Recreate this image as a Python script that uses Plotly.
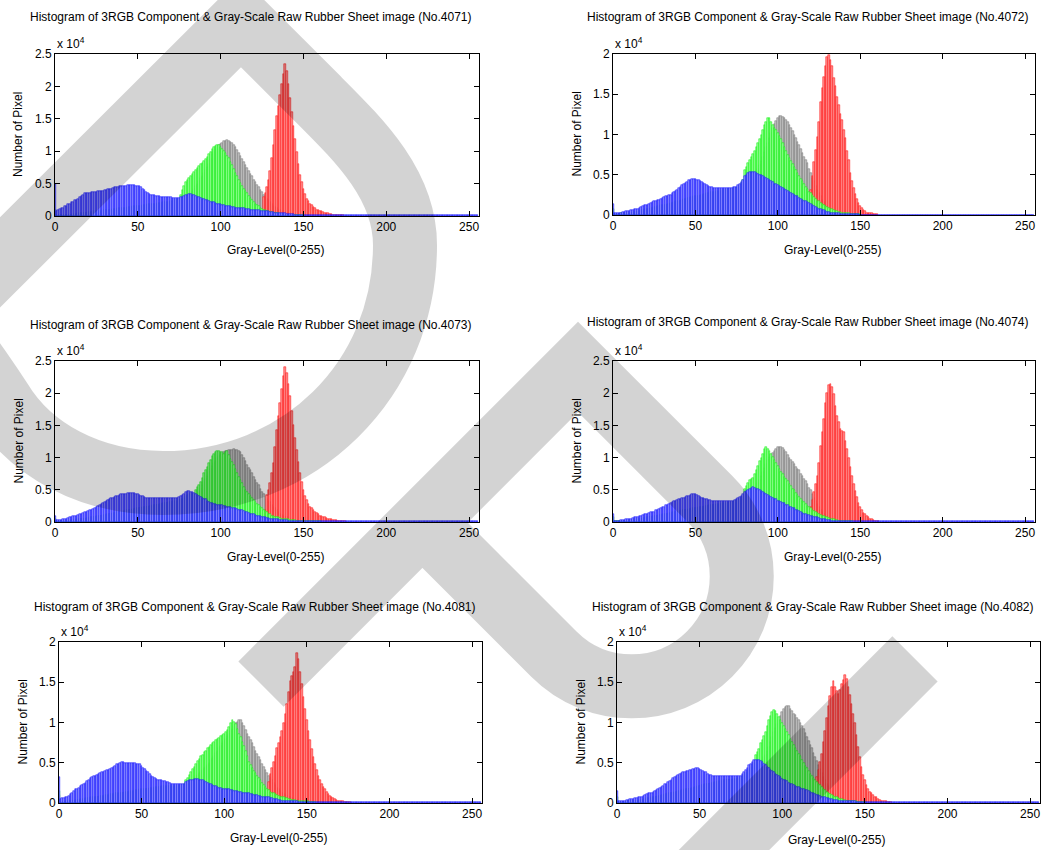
import plotly.graph_objects as go

# Histograms of the R, G, B channels and the gray-scale version of six raw
# rubber sheet images. Counts are stored in hundreds of pixels per gray level.
COUNT_UNIT = 100

IMAGE_IDS = ["4071", "4072", "4073", "4074", "4081", "4082"]
Y_MAX = [25000, 20000, 25000, 25000, 20000, 20000]
X_TICKS = [0, 50, 100, 150, 200, 250]
Y_TICK_TEXT = ["0", "0.5", "1", "1.5", "2", "2.5"]
BLUE_TAIL = [1, 0, 1, 1, 1, 1]

# ---------------- No.4071 ----------------
BLUE_4071 = [
    50, 8, 10, 11, 12, 13, 15, 16, 18, 19,
    21, 22, 24, 25, 27, 29, 31, 33, 35, 36,
    36, 36, 37, 37, 37, 37, 38, 38, 39, 39,
    40, 40, 41, 41, 42, 43, 44, 45, 45, 46,
    46, 47, 47, 47, 48, 48, 48, 48, 48, 47,
    47, 46, 44, 42, 40, 37, 35, 34, 33, 32,
    32, 31, 31, 31, 30, 30, 30, 30, 29, 29,
    29, 28, 28, 28, 28, 28, 29, 30, 31, 32,
    33, 34, 34, 33, 32, 31, 30, 29, 28, 27,
    26, 25, 24, 23, 22, 22, 21, 20, 19, 19,
    18, 17, 17, 16, 16, 15, 15, 14, 14, 13,
    13, 13, 12, 12, 12, 11, 11, 11, 10, 10,
    10, 9, 9, 9, 8, 8, 8, 7, 7, 7,
    6, 6, 6, 5, 5, 5, 4, 4, 4, 4,
    3, 3, 3, 3, 3, 2, 2, 2, 2, 2,
    2, 2, 2, 2, 1, 1, 1, 1, 1, 1]
GREEN_4071 = [
    10, 1, 1, 1, 1, 1, 1, 2, 2, 2,
    2, 3, 3, 3, 4, 4, 4, 5, 5, 5,
    6, 6, 6, 7, 7, 7, 8, 8, 8, 9,
    9, 9, 10, 10, 10, 11, 11, 11, 12, 12,
    12, 13, 13, 13, 14, 14, 14, 15, 15, 15,
    16, 16, 16, 17, 17, 17, 18, 18, 18, 19,
    19, 19, 20, 20, 20, 21, 21, 21, 22, 22,
    23, 23, 24, 25, 25, 26, 33, 40, 47, 52,
    55, 59, 62, 65, 68, 71, 74, 77, 80, 82,
    85, 88, 91, 95, 99, 103, 106, 108, 110, 109,
    107, 104, 101, 97, 93, 89, 84, 78, 72, 67,
    61, 56, 51, 46, 42, 39, 35, 31, 28, 24,
    21, 19, 17, 15, 13, 11, 10, 9, 8, 7,
    6, 6, 5, 5, 4, 4, 3, 3, 3, 2,
    2, 2, 2, 2, 2, 2, 1, 1, 1, 1,
    1]
GRAY_4071 = [
    10, 1, 1, 1, 1, 1, 1, 1, 2, 2,
    2, 2, 2, 3, 3, 3, 3, 4, 4, 4,
    4, 5, 5, 5, 5, 6, 6, 6, 6, 7,
    7, 7, 7, 8, 8, 8, 8, 9, 9, 9,
    9, 10, 10, 10, 10, 11, 11, 11, 11, 12,
    12, 12, 12, 13, 13, 13, 13, 14, 14, 14,
    14, 15, 15, 16, 16, 17, 17, 18, 18, 19,
    19, 20, 21, 22, 23, 24, 25, 26, 27, 28,
    30, 33, 36, 39, 42, 46, 50, 54, 58, 62,
    66, 71, 76, 81, 88, 95, 99, 103, 106, 109,
    111, 113, 115, 116, 117, 116, 114, 112, 109, 106,
    102, 98, 93, 88, 83, 79, 74, 70, 65, 61,
    56, 52, 48, 44, 40, 37, 33, 30, 27, 24,
    21, 18, 16, 14, 12, 10, 9, 8, 7, 6,
    5, 4, 4, 3, 3, 3, 2, 2, 2, 2,
    1, 1, 1, 1, 1, 1, 1, 1, 1, 1, 1]
RED_4071_FROM = 126
RED_4071 = [
    29, 36, 44, 56, 69, 89, 109, 132, 154, 170,
    186, 203, 219, 235, 224, 203, 182, 160, 139, 119,
    99, 81, 64, 52, 42, 34, 27, 23, 19, 17,
    14, 12, 10, 9, 8, 7, 6, 5, 5, 4,
    3, 3, 2, 2, 2, 1, 1, 1, 1]

# ---------------- No.4072 ----------------
BLUE_4072 = [
    14, 2, 2, 2, 3, 3, 4, 4, 5, 5,
    5, 6, 6, 7, 7, 8, 9, 10, 11, 12,
    12, 13, 14, 15, 16, 17, 18, 19, 19, 20,
    21, 22, 23, 24, 25, 25, 27, 28, 30, 31,
    33, 35, 37, 38, 40, 41, 43, 44, 45, 45,
    45, 44, 43, 42, 41, 40, 38, 37, 36, 35,
    35, 34, 34, 34, 34, 34, 34, 34, 34, 34,
    34, 34, 34, 35, 35, 35, 37, 39, 41, 44,
    48, 50, 52, 53, 54, 53, 53, 52, 51, 50,
    50, 48, 47, 46, 45, 44, 42, 41, 39, 38,
    37, 36, 35, 33, 32, 31, 30, 28, 27, 26,
    25, 24, 23, 21, 20, 19, 18, 17, 16, 15,
    14, 12, 11, 10, 9, 8, 7, 6, 6, 5,
    4, 4, 3, 3, 3, 2, 2, 2, 1, 1,
    1, 1, 1, 1, 1, 1, 1, 1, 1, 1]
GREEN_4072 = [
    8, 1, 1, 1, 1, 2, 2, 2, 2, 3,
    3, 3, 4, 4, 4, 5, 5, 6, 6, 7,
    7, 8, 8, 9, 9, 10, 10, 11, 11, 12,
    12, 13, 13, 14, 14, 15, 15, 16, 17, 17,
    18, 18, 19, 20, 20, 21, 21, 22, 22, 23,
    23, 24, 24, 25, 25, 26, 26, 27, 27, 28,
    28, 29, 29, 30, 30, 30, 31, 31, 31, 32,
    32, 32, 32, 33, 33, 34, 35, 37, 40, 43,
    56, 60, 64, 68, 72, 76, 80, 85, 89, 94,
    100, 106, 112, 116, 121, 120, 116, 112, 108, 105,
    102, 98, 94, 89, 84, 79, 75, 71, 67, 63,
    60, 56, 52, 48, 45, 42, 38, 35, 32, 29,
    27, 25, 22, 20, 18, 17, 15, 14, 12, 11,
    10, 9, 8, 7, 6, 5, 5, 4, 4, 3,
    3, 3, 2, 2, 1, 1, 1, 1, 1, 1, 1]
GRAY_4072 = [
    8, 1, 1, 1, 1, 1, 2, 2, 2, 2,
    2, 3, 3, 3, 4, 4, 4, 5, 5, 6,
    6, 6, 7, 7, 8, 8, 9, 9, 10, 10,
    11, 11, 12, 12, 13, 13, 14, 15, 15, 16,
    16, 17, 17, 18, 18, 19, 19, 20, 20, 21,
    21, 22, 22, 23, 23, 24, 24, 25, 25, 26,
    26, 27, 27, 28, 28, 29, 29, 30, 30, 31,
    31, 31, 32, 32, 33, 33, 34, 34, 35, 36,
    37, 38, 40, 41, 43, 45, 49, 53, 57, 62,
    67, 72, 78, 84, 90, 96, 102, 108, 113, 117,
    120, 123, 123, 122, 120, 118, 115, 112, 108, 104,
    100, 96, 91, 87, 82, 77, 72, 68, 64, 57,
    52, 46, 42, 36, 31, 27, 23, 19, 16, 13,
    11, 9, 7, 6, 5, 4, 3, 3, 2, 2,
    2, 1, 1, 1, 1, 1, 1, 1, 1, 1, 1]
RED_4072_FROM = 119
RED_4072 = [
    23, 31, 48, 66, 81, 97, 115, 140, 158, 172,
    185, 196, 199, 193, 185, 170, 160, 147, 137, 126,
    118, 106, 96, 80, 68, 52, 42, 33, 26, 20,
    15, 11, 9, 6, 5, 3, 3, 2, 2, 1,
    1, 1]

# ---------------- No.4073 ----------------
BLUE_4073 = [
    10, 3, 3, 3, 3, 4, 4, 5, 6, 7,
    8, 9, 9, 10, 11, 12, 13, 14, 15, 16,
    17, 18, 19, 20, 22, 23, 25, 26, 28, 29,
    31, 33, 34, 36, 37, 38, 39, 40, 41, 42,
    43, 43, 44, 44, 45, 45, 45, 45, 45, 44,
    43, 42, 41, 40, 39, 38, 37, 37, 37, 37,
    37, 37, 37, 37, 37, 37, 37, 37, 37, 37,
    37, 37, 37, 38, 38, 39, 40, 42, 44, 46,
    48, 48, 47, 46, 45, 44, 42, 40, 39, 37,
    36, 35, 33, 31, 30, 29, 28, 28, 27, 27,
    26, 26, 25, 25, 24, 24, 23, 22, 22, 21,
    20, 19, 19, 18, 17, 16, 15, 14, 13, 13,
    12, 11, 10, 9, 9, 8, 7, 7, 6, 6,
    5, 5, 4, 4, 4, 4, 3, 3, 3, 3,
    3, 2, 2, 2, 2, 2, 2, 2, 2, 2,
    1, 1, 1, 1, 1, 1, 1, 1, 1, 1]
GREEN_4073 = [
    5, 1, 1, 1, 1, 2, 2, 2, 2, 3,
    3, 3, 3, 4, 4, 4, 5, 5, 5, 6,
    6, 7, 7, 8, 8, 9, 9, 10, 10, 11,
    11, 12, 12, 13, 13, 14, 14, 15, 15, 16,
    16, 17, 17, 18, 18, 19, 19, 20, 20, 21,
    21, 22, 22, 23, 23, 24, 24, 25, 25, 26,
    26, 27, 27, 28, 28, 29, 29, 30, 30, 31,
    31, 32, 32, 33, 33, 34, 35, 36, 38, 40,
    42, 43, 44, 44, 44, 50, 54, 58, 62, 69,
    76, 81, 86, 91, 96, 102, 105, 108, 110, 110,
    109, 108, 106, 108, 110, 104, 98, 93, 88, 82,
    76, 70, 65, 60, 55, 50, 46, 43, 40, 37,
    34, 31, 28, 26, 23, 21, 19, 17, 15, 13,
    12, 10, 9, 8, 7, 7, 6, 5, 5, 4,
    4, 4, 3, 3, 3, 3, 2, 2, 2, 2,
    2, 1, 1, 1, 1, 1, 1, 1, 1, 1, 1]
GRAY_4073 = [
    5, 1, 1, 1, 1, 1, 1, 2, 2, 2,
    2, 2, 3, 3, 3, 4, 4, 4, 5, 5,
    5, 6, 6, 7, 7, 8, 8, 9, 9, 10,
    10, 11, 11, 12, 12, 13, 13, 14, 14, 15,
    15, 16, 16, 17, 17, 18, 18, 19, 19, 20,
    20, 21, 21, 22, 22, 23, 23, 24, 24, 25,
    25, 26, 26, 27, 27, 28, 28, 29, 29, 30,
    30, 30, 31, 31, 31, 32, 32, 33, 33, 34,
    34, 35, 36, 37, 38, 40, 43, 47, 52, 57,
    62, 67, 72, 77, 82, 87, 91, 95, 99, 102,
    105, 107, 109, 110, 111, 112, 112, 112, 113, 112,
    112, 110, 108, 104, 99, 94, 89, 84, 81, 76,
    70, 66, 61, 57, 51, 47, 43, 39, 36, 33,
    31, 27, 24, 21, 18, 15, 13, 11, 9, 8,
    7, 6, 5, 4, 4, 3, 3, 2, 2, 2,
    2, 1, 1, 1, 1, 1, 1, 1, 1, 1, 1]
RED_4073_FROM = 127
RED_4073 = [
    18, 42, 50, 60, 76, 91, 117, 143, 165, 185,
    206, 227, 240, 232, 214, 195, 173, 151, 131, 112,
    93, 76, 62, 50, 41, 34, 28, 24, 21, 18,
    16, 14, 12, 10, 9, 8, 7, 6, 5, 4,
    4, 3, 3, 3, 2, 2, 1, 1, 1]

# ---------------- No.4074 ----------------
BLUE_4074 = [
    13, 2, 2, 2, 2, 3, 3, 3, 4, 4,
    5, 5, 6, 7, 7, 8, 9, 10, 11, 12,
    13, 13, 14, 15, 15, 16, 18, 19, 20, 22,
    23, 24, 26, 27, 28, 30, 31, 32, 33, 34,
    35, 36, 37, 38, 39, 40, 41, 42, 43, 44,
    43, 42, 41, 39, 38, 37, 36, 35, 34, 34,
    33, 33, 33, 32, 32, 32, 32, 32, 32, 32,
    32, 32, 32, 33, 34, 35, 37, 39, 41, 44,
    46, 48, 50, 52, 53, 54, 53, 52, 51, 49,
    48, 46, 45, 43, 42, 41, 39, 38, 36, 35,
    33, 32, 31, 30, 29, 27, 26, 24, 23, 22,
    21, 19, 18, 17, 15, 14, 13, 12, 11, 11,
    10, 9, 8, 7, 7, 6, 5, 5, 4, 4,
    3, 3, 3, 2, 2, 2, 2, 1, 1, 1,
    1, 1, 1, 1, 1, 1, 1, 1, 1, 1,
    1, 1, 1, 1, 1, 1, 1, 1, 1, 1]
GREEN_4074 = [
    7, 1, 1, 1, 1, 1, 2, 2, 2, 2,
    3, 3, 3, 4, 4, 4, 5, 5, 6, 6,
    7, 7, 8, 8, 9, 9, 10, 10, 11, 11,
    12, 12, 13, 13, 14, 14, 15, 15, 16, 16,
    17, 17, 18, 18, 19, 19, 20, 20, 21, 21,
    22, 22, 23, 23, 24, 24, 25, 25, 26, 26,
    27, 27, 27, 28, 28, 28, 29, 29, 29, 30,
    30, 30, 31, 31, 32, 33, 34, 36, 38, 40,
    51, 56, 61, 65, 67, 69, 75, 81, 87, 94,
    100, 106, 113, 117, 114, 110, 106, 101, 97, 92,
    87, 82, 78, 74, 70, 67, 63, 59, 56, 52,
    49, 45, 42, 39, 36, 33, 31, 28, 25, 23,
    21, 19, 17, 15, 14, 13, 11, 10, 9, 8,
    7, 6, 5, 4, 4, 3, 3, 2, 2, 2,
    2, 1, 1, 1, 1, 1]
GRAY_4074 = [
    7, 1, 1, 1, 1, 1, 1, 2, 2, 2,
    2, 2, 3, 3, 3, 4, 4, 4, 5, 5,
    6, 6, 7, 7, 8, 8, 9, 9, 10, 10,
    11, 11, 12, 12, 13, 13, 14, 14, 15, 15,
    16, 16, 17, 17, 18, 18, 19, 19, 20, 20,
    21, 21, 22, 22, 23, 23, 24, 24, 25, 25,
    26, 26, 26, 27, 27, 27, 28, 28, 28, 29,
    29, 29, 30, 30, 31, 31, 32, 33, 34, 35,
    36, 37, 38, 40, 42, 45, 50, 55, 60, 66,
    72, 78, 84, 90, 96, 101, 104, 107, 110, 113,
    116, 117, 117, 115, 112, 108, 104, 100, 97, 93,
    90, 86, 83, 80, 75, 72, 67, 63, 59, 53,
    49, 44, 38, 33, 28, 23, 19, 16, 13, 11,
    9, 7, 6, 5, 4, 3, 3, 2, 2, 2,
    1, 1, 1, 1, 1, 1, 1, 1, 1, 1, 1]
RED_4074_FROM = 119
RED_4074 = [
    15, 23, 34, 46, 59, 72, 92, 118, 140, 160,
    185, 200, 213, 215, 210, 198, 180, 165, 155, 144,
    141, 139, 126, 113, 99, 85, 72, 59, 48, 39,
    30, 23, 18, 14, 12, 9, 7, 5, 4, 3,
    2, 1, 1]

# ---------------- No.4081 ----------------
BLUE_4081 = [
    32, 5, 6, 6, 7, 8, 9, 11, 13, 15,
    17, 18, 19, 21, 22, 24, 25, 27, 29, 31,
    32, 33, 34, 35, 36, 37, 38, 39, 40, 41,
    41, 42, 43, 45, 46, 48, 49, 50, 51, 51,
    50, 50, 50, 50, 50, 50, 50, 49, 49, 48,
    46, 44, 42, 40, 38, 36, 34, 32, 31, 30,
    29, 28, 28, 27, 27, 26, 26, 25, 24, 24,
    23, 23, 23, 23, 23, 23, 24, 26, 27, 28,
    28, 29, 30, 30, 30, 29, 29, 28, 27, 26,
    25, 24, 23, 22, 21, 21, 20, 19, 19, 18,
    18, 17, 17, 17, 16, 16, 15, 15, 15, 14,
    14, 13, 13, 13, 12, 12, 11, 11, 10, 10,
    10, 9, 9, 8, 8, 8, 7, 7, 6, 6,
    5, 5, 5, 4, 4, 3, 3, 3, 3, 3,
    2, 2, 2, 2, 2, 1, 1, 1, 1, 1,
    1, 1, 1, 1, 1, 1, 1, 1, 1, 1]
GREEN_4081 = [
    15, 1, 1, 1, 2, 2, 2, 3, 3, 3,
    4, 4, 4, 5, 5, 5, 6, 6, 6, 7,
    7, 7, 8, 8, 8, 9, 9, 9, 10, 10,
    10, 11, 11, 11, 12, 12, 12, 13, 13, 13,
    14, 14, 14, 15, 15, 15, 16, 16, 16, 17,
    17, 17, 18, 18, 18, 19, 19, 19, 20, 20,
    20, 20, 21, 21, 21, 21, 21, 21, 21, 21,
    21, 21, 21, 21, 22, 22, 24, 28, 31, 35,
    38, 42, 45, 48, 52, 55, 58, 60, 63, 65,
    68, 70, 72, 74, 76, 78, 80, 81, 83, 84,
    86, 88, 91, 94, 99, 103, 101, 98, 92, 86,
    82, 76, 71, 65, 58, 51, 47, 44, 40, 37,
    34, 31, 28, 25, 22, 20, 18, 16, 14, 13,
    12, 11, 10, 9, 8, 7, 7, 6, 6, 5,
    5, 4, 4, 4, 3, 3, 3, 2, 2, 2,
    2, 2, 1, 1, 1, 1]
GRAY_4081 = [
    10, 1, 1, 1, 1, 1, 2, 2, 2, 2,
    3, 3, 3, 3, 4, 4, 4, 5, 5, 5,
    6, 6, 6, 7, 7, 7, 8, 8, 8, 9,
    9, 9, 10, 10, 10, 11, 11, 11, 12, 12,
    12, 13, 13, 13, 14, 14, 14, 15, 15, 15,
    16, 16, 16, 17, 17, 17, 18, 18, 18, 19,
    19, 19, 20, 20, 20, 20, 20, 20, 20, 20,
    20, 20, 21, 21, 21, 21, 22, 23, 24, 25,
    27, 29, 31, 33, 35, 37, 39, 41, 43, 45,
    47, 50, 53, 56, 59, 62, 65, 68, 71, 74,
    77, 80, 83, 86, 89, 92, 96, 99, 101, 103,
    103, 100, 96, 91, 86, 82, 78, 74, 70, 65,
    61, 57, 53, 49, 45, 41, 37, 34, 31, 28,
    25, 22, 19, 17, 15, 13, 11, 10, 9, 8,
    7, 6, 5, 5, 4, 4, 3, 3, 2, 2,
    2, 1, 1, 1, 1, 1, 1, 1, 1, 1, 1]
RED_4081_FROM = 127
RED_4081 = [
    26, 36, 44, 51, 59, 68, 75, 82, 90, 99,
    111, 123, 138, 152, 158, 163, 169, 186, 179, 163,
    148, 132, 117, 103, 90, 78, 67, 57, 48, 41,
    34, 28, 24, 20, 17, 14, 11, 9, 8, 6,
    5, 4, 3, 3, 2, 2, 1, 1, 1, 1]

# ---------------- No.4082 ----------------
BLUE_4082 = [
    15, 2, 3, 3, 3, 3, 4, 4, 5, 5,
    5, 6, 6, 7, 7, 8, 9, 10, 11, 12,
    12, 13, 14, 15, 16, 18, 19, 20, 21, 23,
    24, 26, 27, 29, 31, 32, 34, 35, 36, 37,
    38, 39, 40, 40, 41, 41, 42, 42, 43, 43,
    42, 41, 40, 39, 38, 36, 35, 35, 34, 34,
    34, 33, 33, 33, 33, 33, 33, 33, 33, 33,
    33, 33, 33, 34, 34, 34, 36, 39, 41, 44,
    47, 49, 51, 53, 54, 54, 53, 52, 51, 49,
    47, 45, 43, 41, 40, 38, 36, 35, 33, 32,
    30, 29, 28, 27, 25, 24, 23, 22, 21, 20,
    20, 19, 18, 17, 16, 16, 15, 14, 13, 12,
    11, 10, 10, 9, 8, 8, 7, 6, 6, 5,
    5, 4, 4, 4, 3, 3, 3, 3, 2, 2,
    2, 2, 2, 2, 2, 1, 1, 1, 1, 1,
    1, 1, 1, 1, 1, 1, 1, 1, 1, 1]
GREEN_4082 = [
    8, 1, 1, 1, 1, 1, 2, 2, 2, 2,
    3, 3, 3, 4, 4, 4, 5, 5, 6, 6,
    6, 7, 7, 8, 8, 9, 9, 10, 10, 11,
    11, 12, 12, 13, 13, 14, 14, 15, 15, 16,
    16, 17, 17, 18, 18, 19, 19, 20, 20, 21,
    21, 22, 22, 23, 23, 24, 24, 25, 25, 26,
    26, 27, 27, 27, 28, 28, 28, 29, 29, 29,
    30, 30, 30, 31, 31, 32, 33, 35, 37, 39,
    41, 44, 47, 50, 60, 63, 67, 74, 78, 83,
    88, 96, 103, 108, 113, 115, 114, 111, 107, 103,
    99, 96, 92, 88, 84, 80, 76, 72, 68, 65,
    61, 58, 54, 50, 46, 43, 40, 36, 33, 31,
    28, 26, 24, 22, 20, 18, 16, 14, 12, 11,
    10, 9, 8, 7, 6, 5, 5, 4, 4, 3,
    3, 3, 2, 2, 2, 2, 1, 1, 1, 1, 1]
GRAY_4082 = [
    8, 1, 1, 1, 1, 1, 1, 2, 2, 2,
    2, 2, 3, 3, 3, 4, 4, 4, 5, 5,
    5, 6, 6, 7, 7, 8, 8, 9, 9, 10,
    10, 11, 11, 12, 12, 13, 13, 14, 14, 15,
    15, 16, 16, 17, 17, 18, 18, 19, 19, 20,
    20, 21, 21, 22, 22, 23, 23, 24, 24, 25,
    25, 26, 26, 26, 27, 27, 27, 28, 28, 28,
    29, 29, 29, 30, 30, 30, 31, 32, 33, 34,
    35, 37, 39, 41, 43, 45, 48, 51, 54, 57,
    60, 65, 70, 76, 82, 88, 93, 98, 103, 108,
    113, 117, 119, 121, 120, 117, 114, 111, 109, 106,
    103, 99, 96, 92, 87, 82, 77, 72, 68, 62,
    57, 52, 47, 42, 37, 32, 28, 24, 21, 18,
    15, 13, 11, 9, 8, 7, 6, 5, 4, 3,
    3, 2, 2, 2, 2, 1, 1, 1, 1, 1,
    1, 1, 1, 1, 1, 1]
RED_4082_FROM = 121
RED_4082 = [
    32, 41, 51, 61, 76, 90, 106, 121, 133, 144,
    152, 144, 139, 136, 141, 148, 153, 159, 154, 144,
    134, 123, 111, 99, 84, 70, 57, 45, 35, 28,
    22, 18, 14, 12, 10, 8, 7, 5, 4, 3,
    3, 2, 2, 1, 1, 1]

BLUE = [BLUE_4071, BLUE_4072, BLUE_4073, BLUE_4074, BLUE_4081, BLUE_4082]
GREEN = [GREEN_4071, GREEN_4072, GREEN_4073, GREEN_4074, GREEN_4081, GREEN_4082]
GRAY = [GRAY_4071, GRAY_4072, GRAY_4073, GRAY_4074, GRAY_4081, GRAY_4082]
RED = [RED_4071, RED_4072, RED_4073, RED_4074, RED_4081, RED_4082]
RED_FROM = [RED_4071_FROM, RED_4072_FROM, RED_4073_FROM,
            RED_4074_FROM, RED_4081_FROM, RED_4082_FROM]

# ---------------- page geometry (pixels) ----------------
W, H = 1061, 850
# left, right, top, bottom of each axes box
BOXES = [(55, 479, 54, 216), (613, 1035, 54, 215),
         (55, 479, 361, 522), (613, 1035, 361, 522),
         (59, 482, 642, 803), (617, 1040, 642, 803)]
TITLE_Y = [17, 17, 325, 322, 607, 607]
XLABEL_Y = [250, 250, 557, 557, 838, 840]
YLABEL_X = [18, 577, 18, 576, 22, 580]

FONT = "Liberation Sans, Arial, Helvetica, sans-serif"


def px(x):
    return x / W


def py(y):
    return 1 - y / H


def levels(values, first=0, tail=None):
    vals = list(values)
    if tail is not None:
        vals = vals + [tail] * (256 - first - len(vals))
    xs = list(range(first, first + len(vals)))
    return xs, [v * COUNT_UNIT for v in vals]


# (fill, edge) colours for the four histograms, drawn back to front
STYLES = {
    "gray": ("#c4c4c4", "#707070"),
    "red": ("#ff9090", "#ff0000"),
    "green": ("#94ff94", "#00f000"),
    "blue": ("#9090ff", "#0000ff"),
}

fig = go.Figure()
annotations = []

for i, img in enumerate(IMAGE_IDS):
    k = "" if i == 0 else str(i + 1)
    xref, yref = "x" + k, "y" + k
    series = [
        ("gray", levels(GRAY[i])),
        ("red", levels(RED[i], RED_FROM[i])),
        ("green", levels(GREEN[i])),
        ("blue", levels(BLUE[i], 0, BLUE_TAIL[i])),
    ]
    for name, (xs, ys) in series:
        fill, edge = STYLES[name]
        fig.add_trace(go.Bar(
            x=xs, y=ys, width=1.0, xaxis=xref, yaxis=yref,
            marker=dict(color=fill, line=dict(color=edge, width=0.5)),
            hoverinfo="skip", showlegend=False))

    left, right, top, bottom = BOXES[i]
    ymax = Y_MAX[i]
    nticks = ymax // 5000 + 1
    axis_common = dict(
        showline=True, linecolor="black", linewidth=1, mirror="allticks",
        ticks="inside", ticklen=5, tickcolor="black", tickwidth=1,
        showgrid=False, zeroline=False, fixedrange=True, automargin=False,
        tickfont=dict(family=FONT, size=12, color="black"))
    fig.layout["xaxis" + k] = dict(
        domain=[px(left), px(right)], range=[0, 256], anchor=yref,
        tickvals=X_TICKS, ticktext=[str(t) for t in X_TICKS], **axis_common)
    fig.layout["yaxis" + k] = dict(
        domain=[py(bottom), py(top)], range=[0, ymax], anchor=xref,
        tickvals=[j * 5000 for j in range(nticks)],
        ticktext=Y_TICK_TEXT[:nticks], **axis_common)

    cx = (left + right) / 2
    txt = dict(family=FONT, size=12, color="black")
    annotations += [
        dict(text="Histogram of 3RGB Component & Gray-Scale Raw Rubber Sheet image (No.%s)" % img,
             x=px(cx - 16), y=py(TITLE_Y[i]), xref="paper", yref="paper",
             xanchor="center", yanchor="middle", showarrow=False, font=txt),
        dict(text="x 10<sup>4</sup>", x=px(left), y=py(top - 11),
             xref="paper", yref="paper", xanchor="left", yanchor="middle",
             showarrow=False, font=txt),
        dict(text="Gray-Level(0-255)", x=px(cx + 8), y=py(XLABEL_Y[i]),
             xref="paper", yref="paper", xanchor="center", yanchor="middle",
             showarrow=False, font=txt),
        dict(text="Number of Pixel", x=px(YLABEL_X[i]), y=py((top + bottom) / 2),
             xref="paper", yref="paper", xanchor="center", yanchor="middle",
             textangle=-90, showarrow=False, font=txt),
    ]


# ---------------- light-gray stamp strokes over the page ----------------
def path(cmds):
    parts = []
    for cmd, pts in cmds:
        parts.append(cmd + " " + " ".join("%.5f,%.5f" % (px(x), py(y)) for x, y in pts))
    return " ".join(parts)


STROKE_1 = [("M", [(-150, 412)]), ("L", [(241, 22)]), ("L", [(318, 99)]),
            ("C", [(360, 141), (405, 185), (405, 245)]),
            ("C", [(405, 380), (300, 483), (163, 483)]),
            ("C", [(90, 483), (30, 450), (0, 400)]),
            ("C", [(-20, 370), (-40, 340), (-60, 322)])]
STROKE_2 = [("M", [(261, 684)]), ("L", [(578, 367)]), ("L", [(709.5, 498.5)]),
            ("C", [(752.5, 541.5), (752.5, 611.1), (709.5, 654.1)]),
            ("C", [(666.5, 697.1), (596.9, 697.1), (553.9, 654.1)]),
            ("L", [(422.4, 522.6)])]
STROKE_3 = [("M", [(915, 659)]), ("L", [(640, 934)])]

shapes = []
for stroke in (STROKE_1, STROKE_2, STROKE_3):
    shapes.append(dict(type="path", path=path(stroke), xref="paper", yref="paper",
                       line=dict(color="black", width=64),
                       fillcolor="rgba(0,0,0,0)", opacity=0.17, layer="above"))

fig.update_layout(
    template="none",
    width=W, height=H, margin=dict(l=0, r=0, t=0, b=0, pad=0, autoexpand=False),
    paper_bgcolor="white", plot_bgcolor="white",
    barmode="overlay", bargap=0, showlegend=False,
    font=dict(family=FONT, size=12, color="black"),
    annotations=annotations, shapes=shapes)

fig.write_html("out.html", config={"displayModeBar": False})
